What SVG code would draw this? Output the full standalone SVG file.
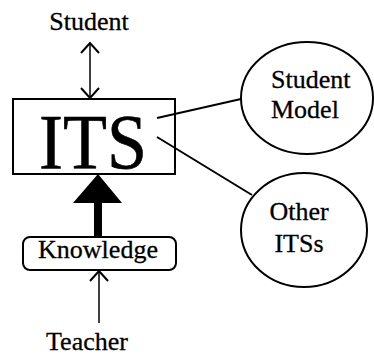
<svg xmlns="http://www.w3.org/2000/svg" width="374" height="356" viewBox="0 0 374 356">
<style>
text{font-family:"Liberation Serif","Times New Roman",serif;fill:#000;font-size:26px;stroke:#000;stroke-width:0.3}
.big{font-size:78px;stroke-width:0.6}
.s{fill:none;stroke:#000;stroke-width:2}
.t{fill:none;stroke:#000;stroke-width:1.5}
</style>
<defs>
<marker id="open" viewBox="0 0 12 20" refX="11" refY="10" markerWidth="12" markerHeight="20" markerUnits="userSpaceOnUse" orient="auto-start-reverse">
<path d="M1,1 L11,10 L1,19" fill="none" stroke="#000" stroke-width="2"/>
</marker>
</defs>
<rect width="374" height="356" fill="#fff"/>
<g id="connectors">
<line class="t" x1="90" y1="43" x2="90" y2="98" marker-start="url(#open)" marker-end="url(#open)"/>
<line class="s" x1="157" y1="118" x2="241" y2="99"/>
<line class="s" x1="157" y1="137" x2="252" y2="195"/>
<path d="M98,174 L122,203 L102,203 L102,237 L94,237 L94,203 L73,203 Z" fill="#000"/>
<line class="t" x1="99" y1="323" x2="99" y2="271" marker-end="url(#open)"/>
</g>
<g id="student"><text x="89" y="30" text-anchor="middle">Student</text></g>
<g id="its">
<rect class="s" x="13" y="99" width="162" height="75"/>
<text class="big" x="93" y="168" text-anchor="middle" textLength="108" lengthAdjust="spacingAndGlyphs">ITS</text>
</g>
<g id="student-model">
<ellipse class="s" cx="307" cy="98" rx="66" ry="56"/>
<text x="271" y="88">Student</text>
<text x="271" y="118">Model</text>
</g>
<g id="other-its">
<ellipse class="s" cx="304" cy="230" rx="63" ry="57"/>
<text x="299" y="220" text-anchor="middle">Other</text>
<text x="299" y="252" text-anchor="middle">ITSs</text>
</g>
<g id="knowledge">
<rect class="s" x="23" y="237" width="153" height="33" rx="7"/>
<text x="98" y="258" text-anchor="middle">Knowledge</text>
</g>
<g id="teacher"><text x="87" y="350" text-anchor="middle">Teacher</text></g>
</svg>
